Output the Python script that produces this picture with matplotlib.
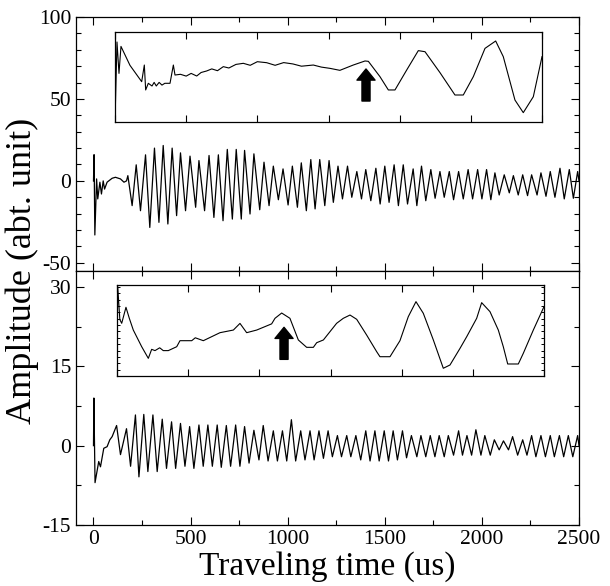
import matplotlib
matplotlib.use('Agg')
import matplotlib.pyplot as plt
from matplotlib.ticker import MultipleLocator, NullFormatter

plt.rcParams['font.family'] = ['Liberation Serif', 'DejaVu Serif']
plt.rcParams['axes.unicode_minus'] = False

# ---- upper trace: start transient + alternating extrema (time us, amplitude)
top_t = [0, 3, 7, 16, 22, 33, 41, 50, 57, 70, 96, 113, 139, 157, 170,
         177, 199, 220, 242, 268, 290, 314, 337, 359, 383, 405, 428, 448, 474,
         497, 526, 543, 572, 595, 620, 643, 667, 689, 715, 735, 761, 778, 806,
         826, 856, 878, 904, 926, 952, 976, 1002, 1024, 1050, 1070, 1096, 1119,
         1141, 1165, 1191, 1213, 1235, 1259, 1282, 1308, 1330, 1356, 1380, 1402,
         1428, 1454, 1476, 1500, 1522, 1548, 1570, 1595, 1617, 1646, 1665, 1689,
         1711, 1737, 1759, 1784, 1806, 1832, 1854, 1880, 1904, 1929, 1952, 1978,
         2000, 2024, 2046, 2067, 2089, 2115, 2141, 2162, 2187, 2210, 2235, 2256,
         2284, 2304, 2330, 2352, 2376, 2402, 2424, 2450, 2471, 2493, 2500]
top_v = [0, 16, -33, 1.2, -11, -0.8, -8, 0, -5, -0.8, 1.6, 2.2, 1.2, -0.8, 0,
         3.2, -15.1, 9.8, -18.2, 15.9, -28.4, 20.0, -25.3, 21.6, -26.3, 20.0, -21.2, 17.1, -18.2,
         15.1, -16.1, 12.4, -18.2, 15.5, -22.3, 15.9, -24.3, 19.2, -23.3, 19.2, -23.3, 18.6, -20.2,
         16.5, -17.6, 11.4, -15.1, 9.0, -11.5, 7.3, -14.7, 9.0, -16.1, 11.0, -18.2, 13.0,
         -17.1, 13.0, -15.1, 12.4, -13.1, 9.0, -11.0, 9.0, -10.0, 5.7, -11.0, 6.9,
         -12.1, 7.7, -14.1, 9.0, -13.1, 9.8, -15.1, 9.8, -14.1, 7.3, -15.1, 9.0,
         -12.1, 6.9, -10.6, 5.7, -10.0, 5.7, -11.5, 5.7, -11.0, 6.9, -11.0, 6.9,
         -11.0, 6.9, -11.5, 4.9, -8.6, 3.7, -7.3, 3.2, -8.6, 3.7, -9.0, 3.7,
         -8.6, 4.9, -9.4, 5.7, -10.0, 7.7, -11.0, 6.9, -10.6, 5.7, 0]

# ---- lower trace
bot_t = [0, 2, 8, 27, 36, 53, 70, 84, 96,
         119, 139, 170, 191, 216, 234, 259, 280, 306, 328, 354, 376, 402, 423,
         448, 471, 495, 517, 543, 565, 589, 612, 637, 658, 684, 706, 732, 754,
         778, 801, 826, 852, 874, 899, 926, 947, 973, 995, 1019, 1041, 1067, 1089,
         1115, 1136, 1161, 1184, 1208, 1230, 1256, 1277, 1304, 1325, 1351, 1376,
         1402, 1424, 1449, 1471, 1497, 1519, 1543, 1565, 1591, 1612, 1637, 1665,
         1686, 1711, 1734, 1758, 1780, 1806, 1827, 1854, 1880, 1900, 1923, 1947,
         1969, 1995, 2015, 2043, 2064, 2089, 2111, 2137, 2158, 2184, 2210, 2232,
         2256, 2278, 2304, 2327, 2352, 2373, 2399, 2421, 2445, 2468, 2493, 2500]
bot_v = [0, 9, -7, -3, -4, -0.5, -0.2, 1.1, 1.7,
         3.8, -1.7, 3.2, -3.9, 5.8, -5.9, 5.9, -4.9, 5.8, -4.9, 5.0, -4.3, 4.5, -4.3,
         4.2, -3.9, 3.6, -4.3, 3.9, -3.9, 3.9, -3.9, 3.9, -4.1, 3.8, -3.9, 3.9, -3.9,
         3.6, -3.3, 2.9, -2.7, 3.8, -2.9, 2.8, -2.9, 2.8, -2.9, 4.9, -2.9, 2.8, -2.7,
         2.8, -2.7, 2.8, -2.4, 2.8, -2.1, 1.9, -2.1, 1.9, -2.1, 1.9, -2.7,
         2.8, -2.9, 2.8, -2.9, 2.8, -2.9, 2.8, -2.7, 2.8, -2.3, 1.9, -2.1,
         1.9, -2.1, 1.9, -2.1, 1.9, -2.1, 1.9, -1.8, 2.8, -1.8, 1.9, -1.8,
         3.0, -1.8, 1.9, -1.8, 1.1, -0.8, 0.9, -0.8, 1.7, -1.8, 1.1, -1.8,
         1.9, -2.1, 1.9, -2.1, 1.9, -2.1, 1.9, -2.1, 1.9, -2.1, 1.9, 0]

# ---- inset of the upper trace (inset units)
ins1_t = [0, 2.8, 5.6, 8.4, 21, 37.5, 41.2, 43.1, 46.8, 52, 55, 58, 62, 66, 70, 77.3, 82, 84.3,
          92, 100, 107, 114.8, 121, 128.8, 136, 144, 152.2, 160, 170, 180.3, 190, 200,
          213.1, 225, 237, 250, 262, 278.7, 290, 302.1, 316, 334.8,
          351.3, 356, 372.3, 384.1, 393.4, 409.9, 426.2, 435.6, 456.7, 477.7, 489.4,
          503.5, 519.9, 534.9, 545.6, 562, 573.7, 587.8, 600]
ins1_v = [0, 88.9, 54, 84, 63, 44.8, 63.3, 35.6, 43, 40, 44, 40, 44, 41, 43, 43, 63.3, 52.2,
          53, 51, 54, 51.1, 55, 56.7, 59, 57, 61.5, 60, 64, 65.2, 63, 67,
          65.9, 63, 66, 64.5, 62, 63.3, 61, 59.6, 57.4, 63.3,
          67.8, 67.4, 50.4, 35.6, 35.6, 57.8, 79.3, 78.1, 54.8, 30, 30,
          50.4, 81.8, 90, 72.6, 24.4, 10.4, 28.1, 72.6]

# ---- inset of the lower trace (inset units)
ins2_t = [0, 1, 4, 6.6, 12.6, 17.3, 22.9, 34.7, 44, 48.7, 53.4, 60, 65, 72.1,
          83.9, 88.5, 105, 110, 121.3, 144.7, 163.5, 172.8, 182.2, 196.3, 217.3,
          222, 231.4, 243, 254.8, 266.5, 275.9, 280.6, 290, 308.6, 318, 327.4,
          336.8, 350.8, 364.9, 369.5, 383.6, 397.6, 409.3, 420.1, 430.4, 444.5,
          458.5, 467.9, 482, 491.4, 505.4, 512.4, 524.1, 535.8, 542.8, 549, 563.9,
          570.9, 585, 600]
ins2_v = [5, 98, 62, 57.9, 75.5, 63.4, 50.5, 32.2, 19.4, 29.3, 27.9, 31, 27.9, 27.9,
          32.2, 38.8, 38.8, 42, 38.8, 47.6, 50.5, 57.8, 47.6, 50.5, 57.3,
          63.4, 69.2, 63.4, 39.6, 31.5, 31.5, 36.6, 39.6, 57.9, 63.4, 67,
          62.3, 45, 26.7, 21.2, 21.2, 38.8, 65.2, 81.7, 68.9, 39.6,
          8.5, 12.1, 30.4, 43.2, 63.4, 80.6, 70.7, 50.5, 32.2, 13.2, 13.2,
          24.9, 50.5, 76.2]

fig = plt.figure(figsize=(6.1, 5.86), dpi=100)
ax1 = fig.add_axes([0.1246, 0.5375, 0.8246, 0.4335])
ax2 = fig.add_axes([0.1246, 0.1041, 0.8246, 0.4334])

ax1.plot(top_t, top_v, color='black', lw=0.9)
ax2.plot(bot_t, bot_v, color='black', lw=0.9)

ax1.set_xlim(-90, 2500)
ax2.set_xlim(-90, 2500)
ax1.set_ylim(-55, 100)
ax2.set_ylim(-15, 33)

for ax in (ax1, ax2):
    ax.xaxis.set_major_locator(MultipleLocator(500))
    ax.xaxis.set_minor_locator(MultipleLocator(250))
    ax.tick_params(which='both', direction='in', top=True, right=True,
                   labelsize=15.5, width=0.8)
    ax.tick_params(which='major', length=6)
    ax.tick_params(which='minor', length=3.5)
    for s in ax.spines.values():
        s.set_linewidth(0.9)

ax1.yaxis.set_major_locator(MultipleLocator(50))
ax1.yaxis.set_minor_locator(MultipleLocator(10))
ax1.xaxis.set_major_formatter(NullFormatter())
ax2.yaxis.set_major_locator(MultipleLocator(15))
ax2.yaxis.set_minor_locator(MultipleLocator(7.5))

ax2.set_xlabel('Traveling time (us)', fontsize=24, labelpad=2)
fig.text(0.037, 0.537, 'Amplitude (abt. unit)', fontsize=26, rotation=90,
         ha='center', va='center')

# insets
in1 = fig.add_axes([115 / 610, 1 - 122 / 586, 427 / 610, 90 / 586])
in2 = fig.add_axes([117 / 610, 1 - 376 / 586, 427 / 610, 91 / 586])
in1.plot(ins1_t, ins1_v, color='black', lw=0.8)
in2.plot(ins2_t, ins2_v, color='black', lw=0.8)
for ax in (in1, in2):
    ax.set_xlim(0, 600)
    ax.set_ylim(0, 100)
    ax.xaxis.set_major_locator(MultipleLocator(100))
    ax.tick_params(axis='x', direction='in', top=True, length=5, width=0.8,
                   labelbottom=False)
    for s in ax.spines.values():
        s.set_linewidth(0.9)
in1.tick_params(axis='y', left=False, labelleft=False)
in2.yaxis.set_major_locator(MultipleLocator(7))
in2.tick_params(axis='y', direction='in', right=True, length=2.5, width=0.7,
                labelleft=False)

arrow = dict(arrowstyle='simple,head_width=1.3,head_length=0.8,tail_width=0.58',
             fc='black', ec='black', mutation_scale=10, shrinkA=0, shrinkB=0)
in1.annotate('', xy=(352.7, 58.9), xytext=(352.7, 23.3), arrowprops=arrow)
in2.annotate('', xy=(234.7, 53.5), xytext=(234.7, 18.3), arrowprops=arrow)

fig.savefig('out.png', dpi=100)
